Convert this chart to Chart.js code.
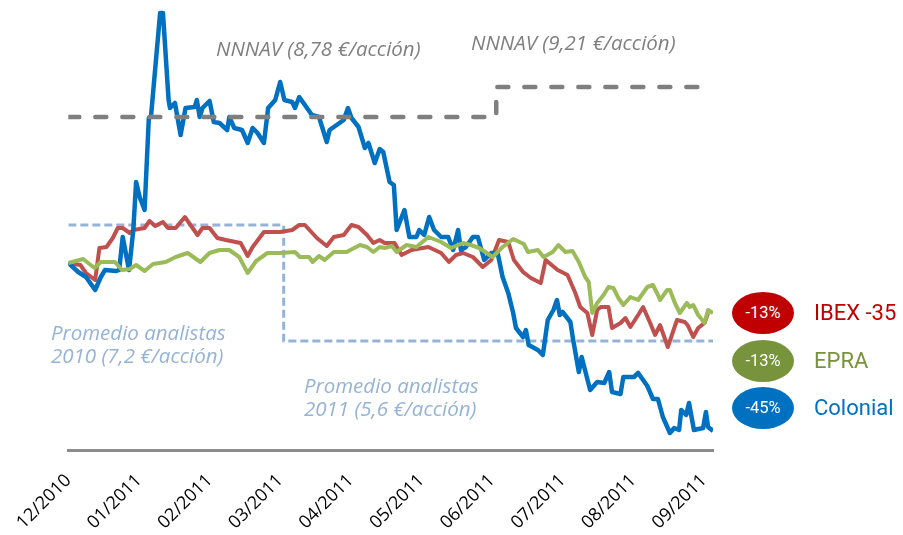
<!DOCTYPE html>
<html>
<head>
<meta charset="utf-8">
<script src="https://cdn.jsdelivr.net/npm/chart.js@4"></script>
<style>
  body { margin: 0; background: #fff; }
  #wrap { position: relative; width: 903px; height: 535px; font-family: "Open Sans", sans-serif; }
  canvas { position: absolute; left: 0; top: 0; }
  .note { position: absolute; font-style: italic; font-size: 20.5px; white-space: nowrap; line-height: 23px; }
  .gray { color: #7f7f7f; }
  .blue { color: #95b3d7; }
  .pill { position: absolute; width: 62px; height: 42px; border-radius: 50%; color: #fff;
          font-family: Roboto, sans-serif; font-size: 16.5px; text-align: center; line-height: 42px; }
  .lab { position: absolute; font-family: Roboto, sans-serif; font-size: 22px; line-height: 26px; white-space: nowrap; }
</style>
</head>
<body>
<div id="wrap">
  <canvas id="chart" width="903" height="535"></canvas>
  <div class="note gray" style="left:216px; top:37px;">NNNAV (8,78 €/acción)</div>
  <div class="note gray" style="left:471px; top:31px;">NNNAV (9,21 €/acción)</div>
  <div class="note blue" style="left:51px; top:321px;">Promedio analistas<br>2010 (7,2 €/acción)</div>
  <div class="note blue" style="left:304px; top:374px;">Promedio analistas<br>2011 (5,6 €/acción)</div>

  <div class="pill" style="left:732px; top:292px; background:#c00000;">-13%</div>
  <div class="lab" style="left:814px; top:300px; color:#c00000;">IBEX -35</div>
  <div class="pill" style="left:732px; top:340px; background:#77933c;">-13%</div>
  <div class="lab" style="left:814px; top:348px; color:#77933c;">EPRA</div>
  <div class="pill" style="left:732px; top:387px; background:#0070c0;">-45%</div>
  <div class="lab" style="left:814px; top:395px; color:#0070c0;">Colonial</div>
</div>
<script>
// eje x en meses desde 12/2010; valores en base 100
const monthLabels = ['12/2010', '01/2011', '02/2011', '03/2011', '04/2011', '05/2011',
                     '06/2011', '07/2011', '08/2011', '09/2011'];

const colonialT = [0, 0.14, 0.25, 0.38, 0.46, 0.52, 0.68, 0.72, 0.77, 0.86, 0.92, 0.96, 1.01, 1.08, 1.14, 1.17,
  1.30, 1.34, 1.42, 1.44, 1.51, 1.59, 1.66, 1.79, 1.82, 1.86, 1.90, 2.00, 2.06, 2.14, 2.25, 2.28, 2.35, 2.46,
  2.54, 2.61, 2.68, 2.77, 2.83, 2.93, 3.00, 3.06, 3.17, 3.21, 3.27, 3.38, 3.45, 3.55, 3.66, 3.70, 3.90, 3.96,
  4.01, 4.11, 4.20, 4.25, 4.34, 4.41, 4.46, 4.55, 4.61, 4.65, 4.76, 4.83, 4.93, 4.97, 5.04, 5.11, 5.18, 5.28,
  5.38, 5.45, 5.52, 5.56, 5.63, 5.73, 5.80, 5.89, 5.99, 6.08, 6.15, 6.23, 6.30, 6.34, 6.44, 6.48, 6.52, 6.65,
  6.72, 6.79, 6.87, 6.92, 6.96, 7.00, 7.11, 7.15, 7.23, 7.27, 7.39, 7.49, 7.59, 7.66, 7.70, 7.82, 7.86, 8.01,
  8.07, 8.20, 8.28, 8.35, 8.42, 8.52, 8.58, 8.65, 8.68, 8.75, 8.79, 8.86, 8.99, 9.03, 9.06, 9.13];
const colonialV = [100, 97.75, 96.5, 93.25, 96.5, 98.25, 98, 98.25, 106.5, 98.25, 108.25, 120.25, 116.5, 113.25, 136.25, 136.5,
  162.5, 162.5, 140.75, 138.75, 140, 132, 138.75, 139, 140.75, 136.5, 138.75, 140.5, 135.25, 135, 133.25, 136.5, 133.75, 133.25,
  130, 133.75, 132.5, 130, 138.75, 140.75, 145.25, 140.75, 140.25, 138.75, 141.5, 138.75, 137, 136.5, 130.25, 133.25, 135.75, 138.75,
  136.25, 134, 128.75, 130, 125, 128.5, 127.75, 120.25, 119.5, 108.25, 113.25, 106.5, 106.5, 108.25, 107, 111.5, 108.25, 106.5,
  106.5, 103.25, 108.25, 103.25, 104, 106.5, 106.5, 100.75, 102.5, 102.5, 96.5, 92.5, 87.5, 83.75, 81.5, 83.25, 79.5, 78.25,
  77, 85.75, 88.25, 90.75, 87, 87.75, 85.25, 80.75, 72.75, 76.5, 68.25, 70.25, 70, 72.75, 67.75, 67.25, 71.5, 71.5,
  72.5, 69.25, 66, 66, 61.5, 57.5, 58.75, 58.25, 63.25, 62, 65, 58.25, 58.75, 62.75, 59, 58];

const ibexT = [0, 0.17, 0.25, 0.38, 0.44, 0.54, 0.63, 0.70, 0.77, 0.87, 0.92, 1.08, 1.15, 1.23, 1.34, 1.41, 1.52,
  1.65, 1.73, 1.83, 1.90, 2.00, 2.11, 2.23, 2.44, 2.54, 2.61, 2.77, 3.00, 3.17, 3.27, 3.35, 3.52, 3.66, 3.76,
  3.90, 4.01, 4.11, 4.23, 4.32, 4.41, 4.48, 4.62, 4.72, 4.86, 5.10, 5.28, 5.39, 5.49, 5.59, 5.73, 5.87, 5.99,
  6.10, 6.23, 6.31, 6.44, 6.55, 6.69, 6.76, 6.93, 7.07, 7.18, 7.25, 7.35, 7.42, 7.49, 7.54, 7.65, 7.70, 7.82,
  7.89, 7.96, 8.07, 8.14, 8.24, 8.31, 8.38, 8.49, 8.62, 8.73, 8.77, 8.85, 8.92, 9.01, 9.06];
const ibexV = [100, 99.5, 97.5, 95.75, 103.75, 104, 106.25, 108.75, 108.75, 107.5, 108.25, 108.75, 110.5, 109.25, 110.25, 108.75, 108.75,
  111.5, 109.5, 107, 108.75, 108.75, 106.25, 105.75, 105, 101.75, 104, 107.75, 107.75, 108.25, 109.5, 109.5, 106.25, 104.25, 106.5,
  107, 109.5, 109, 107, 105, 105.75, 105, 105, 102, 103.25, 104, 102.5, 100.25, 102, 102.5, 101.5, 99, 100.75,
  105.75, 105.25, 100.75, 97.75, 96.25, 95, 100.75, 98.25, 97, 92.5, 89, 87.5, 82, 88.25, 89, 89, 83.75, 85,
  86.25, 84, 87, 89, 85, 82, 84.5, 79, 85.75, 85.25, 84.5, 81.5, 83.75, 85, 87.5];

const epraT = [0, 0.21, 0.37, 0.46, 0.66, 0.76, 0.87, 0.96, 1.08, 1.20, 1.38, 1.52, 1.69, 1.87, 2.00, 2.14, 2.28,
  2.42, 2.54, 2.66, 2.82, 3.00, 3.21, 3.28, 3.41, 3.46, 3.55, 3.63, 3.76, 3.94, 4.13, 4.23, 4.32, 4.41, 4.48,
  4.58, 4.65, 4.79, 4.93, 5.10, 5.28, 5.42, 5.59, 5.70, 5.82, 6.01, 6.15, 6.30, 6.45, 6.51, 6.65, 6.73, 6.86,
  6.94, 7.04, 7.14, 7.23, 7.32, 7.37, 7.42, 7.49, 7.58, 7.65, 7.72, 7.79, 7.86, 7.96, 8.07, 8.20, 8.28, 8.35,
  8.38, 8.48, 8.52, 8.59, 8.66, 8.76, 8.80, 8.85, 8.92, 9.01, 9.06, 9.13];
const epraV = [100, 101, 98.75, 100.25, 100.25, 98.25, 98.5, 99.5, 98, 99.75, 100.25, 101.5, 102.5, 100.25, 102.5, 103.25, 103.25,
  101.5, 97.5, 100.5, 102.5, 102.5, 102.75, 101.5, 101.5, 100.25, 101.75, 100.75, 102.75, 102.75, 104.5, 104, 102.75, 104, 103.75,
  104.25, 102.75, 104.5, 104, 106.5, 105.25, 103.75, 105, 104.5, 103.75, 101.5, 104, 106, 104.75, 102.75, 103.25, 101.5, 102.75,
  104.5, 102.75, 103, 100.25, 96.5, 95.25, 87.5, 90, 92, 94, 93.75, 91.25, 89.5, 91.5, 90.75, 94, 94.5, 92,
  90.75, 93.25, 93.25, 90, 87.5, 90, 89, 89.5, 87, 85, 88.25, 87.5];

// NNNAV 8,78 -> 9,21 y promedio analistas 7,2 -> 5,6 (en la misma base)
const nnnavT = [0, 6.06, 9.13];
const nnnavV = [136.5, 144, 144];
const analystT = [0, 3.05, 9.13];
const analystV = [109.5, 80.5, 80.5];

const pts = (t, v) => t.map((x, i) => ({ x: x, y: v[i] }));

new Chart(document.getElementById('chart'), {
  type: 'line',
  data: {
    datasets: [
      { label: 'NNNAV', data: pts(nnnavT, nnnavV), stepped: 'before', borderColor: '#7f7f7f',
        borderWidth: 4.5, borderDash: [11, 16], borderCapStyle: 'round', order: 0 },
      { label: 'EPRA', data: pts(epraT, epraV), borderColor: '#9bbb59', borderWidth: 4, order: 1 },
      { label: 'Colonial', data: pts(colonialT, colonialV), borderColor: '#0070c0', borderWidth: 4.5, order: 2 },
      { label: 'IBEX -35', data: pts(ibexT, ibexV), borderColor: '#c0504d', borderWidth: 4, order: 3 },
      { label: 'Promedio analistas', data: pts(analystT, analystV), stepped: 'before', borderColor: '#95b3d7',
        borderWidth: 3, borderDash: [8, 4], order: 4 }
    ]
  },
  options: {
    responsive: false,
    animation: false,
    devicePixelRatio: 1,
    layout: { padding: { left: 65, right: 190, top: 5, bottom: 0 } },
    elements: { point: { radius: 0 }, line: { tension: 0, borderJoinStyle: 'round', fill: false } },
    plugins: { legend: { display: false }, tooltip: { enabled: false } },
    scales: {
      x: {
        type: 'linear', min: 0, max: 9.13,
        grid: { display: false, drawTicks: false },
        border: { display: true, color: '#8c8c8c', width: 3 },
        afterBuildTicks: s => { s.ticks = monthLabels.map((_, i) => ({ value: i })); },
        afterFit: s => { s.height = 85; },
        ticks: {
          autoSkip: false, minRotation: 45, maxRotation: 45, padding: 20,
          color: '#000', font: { family: 'Open Sans', size: 18 },
          callback: v => monthLabels[v]
        }
      },
      y: { display: false, min: 53.25, max: 164.5 }
    }
  }
});
</script>
</body>
</html>
